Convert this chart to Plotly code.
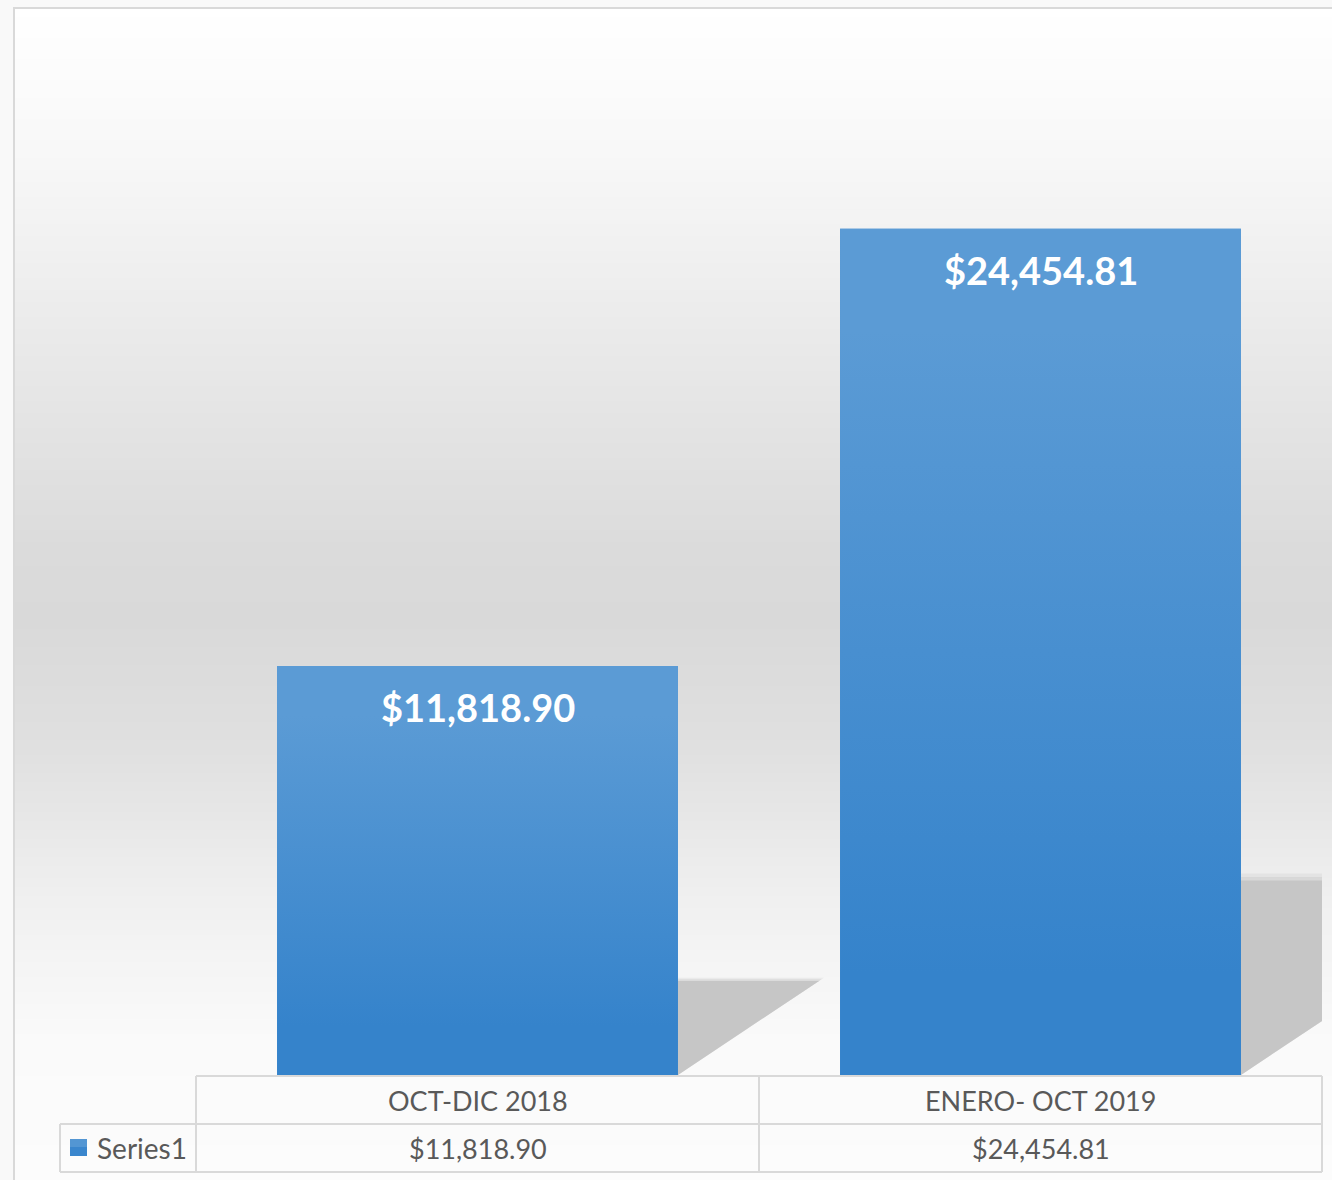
import numpy as np
import plotly.graph_objects as go

# ---- data ----
categories = ["OCT-DIC 2018", "ENERO- OCT 2019"]
values = [11818.90, 24454.81]
series_name = "Series1"

W, H = 1332, 1180
X0, X1 = 196, 1322          # plot area px (left/right)
YT, YB = 37, 1075           # plot area px (top/bottom)
YMAX = 30000
BAR_W = 0.712

def px(x):
    return x / W

def py(y):
    return 1 - y / H

fmt = lambda v: "${:,.2f}".format(v)
pos = list(range(len(categories)))

fig = go.Figure()
fig.add_trace(go.Bar(
    x=pos, y=values, name=series_name, width=BAR_W,
    marker=dict(color="#4a8fd1", line=dict(width=0)),
    customdata=categories, hovertemplate="%{customdata}: %{y:$,.2f}<extra></extra>",
    showlegend=False,
))
# gradient face of each bar (built from the same values)
half = BAR_W / 2
for i, v in zip(pos, values):
    fig.add_trace(go.Scatter(
        x=[i - half, i + half, i + half, i - half, i - half],
        y=[0, 0, v, v, 0], mode="lines", line=dict(width=0),
        fill="toself",
        fillgradient=dict(type="vertical",
                          colorscale=[[0, "#3583cb"], [0.12, "#3583cb"],
                                      [0.88, "#5b9bd5"], [1, "#5b9bd5"]]),
        hoverinfo="skip", showlegend=False,
    ))

shapes = []
# background gradient (style)
stops_y = [8, 150, 350, 550, 620, 750, 900, 1040, 1180]
stops_c = [255, 248, 233, 219, 217, 224, 240, 250, 252]
step = 3
for y in range(8, H, step):
    c = int(round(np.interp(y + step / 2, stops_y, stops_c)))
    shapes.append(dict(type="rect", xref="paper", yref="paper",
                       x0=px(15), x1=1.0, y0=py(min(y + step, H)), y1=py(y),
                       fillcolor=f"rgb({c},{c},{c})", line=dict(width=0), layer="below"))
# chart border
shapes.append(dict(type="rect", xref="paper", yref="paper", x0=px(14), x1=1.05,
                   y0=-0.05, y1=py(8), line=dict(color="#d9d9d9", width=2),
                   fillcolor="rgba(0,0,0,0)", layer="below"))

# perspective shadows derived from the bar values
cat_px = (X1 - X0) / len(categories)
px_per_unit = (YB - YT) / YMAX
for i, v in zip(pos, values):
    h_units = 0.23 * v
    h_px = h_units * px_per_unit
    w_units = 1.5 * h_px / cat_px
    xa = i + half
    for op, grow in [(0.25, 0.035), (0.4, 0.018), (1.0, 0.0)]:
        xb = xa + w_units * (1 + grow)
        yt = h_units * (1 + grow)
        col = "rgba(198,198,198,%.2f)" % op
        shapes.append(dict(type="path", xref="x", yref="y",
                           path=f"M {xa},0 L {xa},{yt} L {xb},{yt} Z",
                           fillcolor=col, line=dict(width=0), layer="below"))

# data table lines
lc = "#d9d9d9"
def hline(y, xa, xb):
    shapes.append(dict(type="line", xref="paper", yref="paper", x0=px(xa), x1=px(xb),
                       y0=py(y), y1=py(y), line=dict(color=lc, width=2)))
def vline(x, ya, yb):
    shapes.append(dict(type="line", xref="paper", yref="paper", x0=px(x), x1=px(x),
                       y0=py(ya), y1=py(yb), line=dict(color=lc, width=2)))
hline(1076, X0, X1)
hline(1124, 60, X1)
hline(1172, 60, X1)
vline(X0, 1076, 1172)
vline((X0 + X1) / 2, 1076, 1172)
vline(X1, 1076, 1172)
vline(60, 1124, 1172)
# legend key (two-tone to hint at the gradient, overlapping to avoid a seam)
shapes.append(dict(type="rect", xref="paper", yref="paper", x0=px(70), x1=px(87),
                   y0=py(1156), y1=py(1139), fillcolor="#3a86cd", line=dict(width=0)))
shapes.append(dict(type="rect", xref="paper", yref="paper", x0=px(70), x1=px(87),
                   y0=py(1147), y1=py(1139), fillcolor="#5396d3", line=dict(width=0)))

annotations = []
for i, c, v in zip(pos, categories, values):
    annotations.append(dict(x=i, y=v, xref="x", yref="y", text=fmt(v), showarrow=False,
                            yanchor="middle", yshift=-41,
                            font=dict(family="Lato", size=38, color="white", weight="bold")))
    annotations.append(dict(x=i, y=py(1100), xref="x", yref="paper", text=c, showarrow=False,
                            yanchor="middle", font=dict(family="Lato", size=27, color="#595959")))
    annotations.append(dict(x=i, y=py(1148), xref="x", yref="paper", text=fmt(v), showarrow=False,
                            yanchor="middle", font=dict(family="Lato", size=27, color="#595959")))
annotations.append(dict(x=px(95), y=py(1148), xref="paper", yref="paper", text=series_name,
                        showarrow=False, xanchor="left", yanchor="middle",
                        font=dict(family="Lato", size=28, color="#595959")))

fig.update_layout(
    width=W, height=H, margin=dict(l=0, r=0, t=0, b=0),
    paper_bgcolor="#f9f9f9", plot_bgcolor="rgba(0,0,0,0)",
    xaxis=dict(domain=[px(X0), px(X1)], range=[-0.5, 1.5],
               showticklabels=False, showgrid=False, zeroline=False, showline=False, ticks=""),
    yaxis=dict(domain=[py(YB), py(YT)], range=[0, YMAX], visible=False),
    shapes=shapes, annotations=annotations, showlegend=False,
)
fig.write_html("out.html", config={"displayModeBar": False},
               post_script="document.body.style.margin='0';document.body.style.background='#f9f9f9';")
